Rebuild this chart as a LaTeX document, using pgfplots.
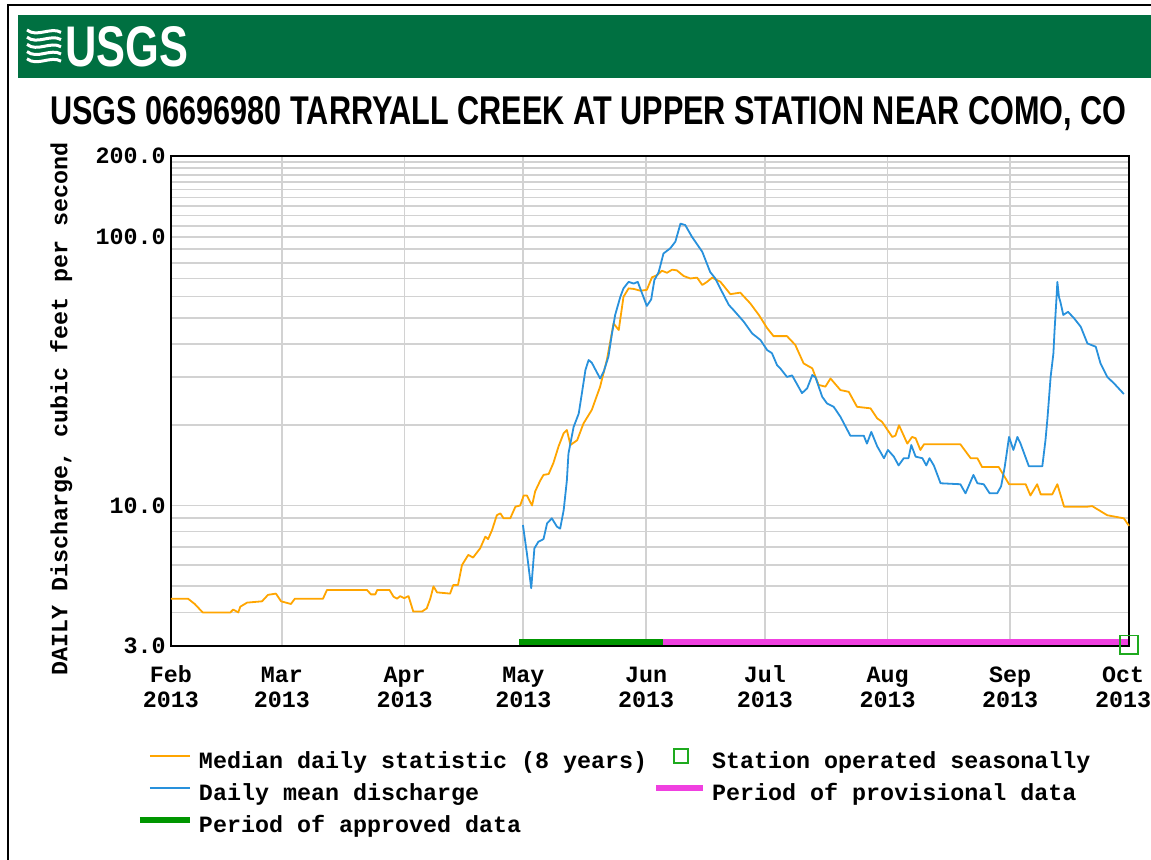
\documentclass[border=0pt]{standalone}
\usepackage{pgfplots}
\pgfplotsset{compat=1.18}
\usepackage{pgfplotstable}
\usepackage{fontspec}
\setsansfont{Liberation Sans}
\newfontfamily\pixfont{Liberation Mono}
\newcommand{\pix}{\pixfont\bfseries\fontsize{11.67pt}{12.5pt}\selectfont}
\definecolor{usgsgreen}{RGB}{0,112,65}
\definecolor{medorange}{RGB}{255,165,0}
\definecolor{meanblue}{RGB}{40,145,220}
\definecolor{apprgreen}{RGB}{0,150,0}
\definecolor{provmag}{RGB}{240,64,224}
\definecolor{seasgreen}{RGB}{30,170,30}
\definecolor{gridgray}{RGB}{210,210,210}

% day 0 = 1 Feb 2013
\pgfplotstableread{
day val
0 4.5
4.3 4.5
6 4.3
8 4.0
15 4.0
15.7 4.1
17 4.0
17.5 4.2
19.2 4.35
23 4.4
24.5 4.65
26.5 4.7
27.8 4.4
30.3 4.3
31.3 4.5
38.4 4.5
39.4 4.85
49.5 4.85
50.5 4.67
51.6 4.67
52.1 4.85
55.2 4.85
56.2 4.58
57.1 4.5
57.9 4.6
58.9 4.52
60 4.6
61.2 4.03
63.4 4.03
64.6 4.14
65.5 4.5
66.3 5.0
67.2 4.75
70.5 4.7
71.3 5.06
72.5 5.06
73.5 6.0
75.1 6.55
76.3 6.4
78.1 6.93
79.4 7.66
80.1 7.5
81.1 8.1
82.3 9.2
83.2 9.35
84 8.96
85.7 8.96
87 9.9
88.2 10.0
89.1 10.9
89.9 10.9
91.2 10.0
92 11.3
93.3 12.4
94.1 13.0
95.4 13.1
96.6 14.4
97.9 16.6
99.2 18.6
100 19.1
100.9 16.8
102.6 17.5
104.2 20.2
106.3 22.7
108.4 27.7
110.1 34.8
111.8 47.6
113.1 45
114.3 59.8
115.6 64.3
116.9 64
118.6 63
120.2 63.5
121.5 70.7
122.8 72
124 74.8
125.3 73.5
126.6 75.5
127.8 75
129.5 71.5
131.2 70
132.9 70.5
134.2 66.2
135.4 68
136.7 70.5
138.8 68
141.3 61.2
143.8 62
146.3 56.6
148.5 51.2
150.6 45.7
152.2 42.7
155.6 42.7
157.7 39.6
159.8 33.8
162 32.4
163.6 28.1
165.3 27.7
166.6 29.7
169.1 26.9
171.2 26.5
173.3 23.3
176.7 23
178.4 21.1
179.6 20.5
182.2 18.0
183 18.2
183.9 19.9
186 17.0
187.2 18.0
188.1 17.8
189.3 16.1
190.2 16.9
199.4 16.9
202 15.0
203.7 15.0
204.9 13.9
209.1 13.9
211.7 12.0
215.9 12.0
217.1 10.9
218.8 12.0
219.7 11.0
222.6 11.0
223.9 12.0
225.6 9.9
231.5 9.9
232.7 9.95
236.5 9.2
240.7 8.96
242 8.4
}\median

\pgfplotstableread{
day val
88.9 8.46
89.9 6.64
91 4.92
91.8 6.93
92.8 7.33
94.1 7.5
95 8.58
96.2 8.96
97.5 8.34
98.3 8.2
99.2 9.62
100 12.4
100.4 15.6
101.7 19.6
103 22
103.8 26.2
104.7 32
105.5 34.8
106.3 34
108.4 29.7
109.3 31.5
110.5 35.8
111.4 43.7
112.2 51.2
113.5 59.8
114.3 64.3
115.6 68
116.9 67
117.9 68
119 61.6
120.2 55.3
121.3 58.5
122.1 69
123.2 74
124.4 86.7
126.1 90.6
127.4 95.9
128.7 112
129.9 110.6
131.6 100
134.2 88
136.2 74
137.5 70
139.2 62.4
140.9 55.8
142.1 53.4
144.7 48.3
146.8 43.7
148.9 41.3
150.6 37.9
151.8 36.9
153.1 33.3
153.9 32.4
155.6 30.1
156.9 30.5
159.4 26.2
160.7 27.3
162 30.6
162.8 30
164.5 25.4
165.7 24
167.4 23.3
169.1 21.4
171.6 18.2
175 18.2
175.8 17.0
176.9 18.8
178.4 16.6
180.1 15
181.1 16.1
182.6 15.2
183.8 14.1
185.1 15
186.3 15
187 16.8
188.1 15.2
189.8 15
190.8 14.1
191.6 15
192.7 14.1
194.4 12.1
199.4 12.0
200.7 11.1
202.7 13
203.7 12.1
205.3 12
206.8 11.1
208.7 11.1
209.7 11.8
210.6 13.9
211.7 18.0
212.8 16.1
213.8 18.0
214.6 17
216.7 14
220.1 14
220.9 17.5
221.4 21.1
222.2 30.1
222.9 36.8
223.2 45
223.7 59.8
223.9 68
224.3 59.8
224.7 57
225.4 51.2
226.6 52.6
228.1 49.8
229.8 46.3
231.5 40.1
233.6 39
234.8 33.8
236.5 30.1
238.2 28.5
240.7 26
}\dailymean

\begin{document}
\begin{tikzpicture}
% outer frame
\draw[black, line width=1pt] (-81.5pt,-107pt) -- (-81.5pt,320.5pt) -- (490pt,320.5pt);
% banner
\fill[usgsgreen] (-76.5pt,284pt) rectangle (490pt,315.5pt);
% wave icon
\begin{scope}[white, line width=1.5pt, line cap=butt]
\foreach \k in {0,1,2,3,4} {
  \draw (-72pt,{(308-3.6*\k)*1pt}) .. controls +(5pt,-4pt) and +(-5pt,3pt) .. +(17pt,-1.2pt);
}
\end{scope}
\node[anchor=base west, inner sep=0pt, text=white] at (-53pt,289.5pt)
  {\resizebox{61.5pt}{20pt}{\sffamily\bfseries USGS}};
% title
\node[anchor=base west, inner sep=0pt] at (-60.5pt,260.5pt)
  {\resizebox{538pt}{14pt}{\sffamily\bfseries USGS 06696980 TARRYALL CREEK AT UPPER STATION NEAR COMO, CO}};

\begin{axis}[
  at={(0,0)}, anchor=south west,
  scale only axis, width=479pt, height=245pt,
  ymode=log, ymin=3, ymax=200, xmin=0, xmax=242,
  clip=false,
  axis line style={line width=1pt, black},
  xtick={0,28,59,89,120,150,181,212,242},
  xticklabels={Feb\\2013,Mar\\2013,Apr\\2013,May\\2013,Jun\\2013,Jul\\2013,Aug\\2013,Sep\\2013,\hspace*{-6pt}Oct\\\hspace*{-6pt}2013},
  xticklabel style={align=center, font=\pix, inner sep=0pt, anchor=north,
    text height=9pt, yshift=-21.5pt},
  ytick={3,10,100,200},
  yticklabels={3.0,10.0,100.0,200.0},
  yticklabel style={font=\pix, inner sep=0pt, xshift=-2.5pt},
  minor ytick={4,5,6,7,8,9,20,30,40,50,60,70,80,90,110,120,130,140,150,160,170,180,190},
  major tick length=0pt, minor tick length=0pt,
  grid=both,
  major grid style={draw=gridgray, line width=0.9pt},
  minor grid style={draw=gridgray, line width=0.9pt},
  legend columns=2,
  legend cell align=left,
  legend style={at={(axis description cs:0,0)}, anchor=north west,
    xshift=-17pt, yshift=-51pt, draw=none, fill=none,
    inner sep=0pt, outer sep=0pt, font=\pix,
    nodes={inner sep=0pt, text height=8pt, text depth=3pt},
    column sep=3pt, row sep=3.5pt},
]
\addlegendimage{legend image code/.code={\path[draw=none, fill=none] (0pt,-1pt) rectangle (25pt,7pt);
  \draw[medorange, line width=0.9pt] (5pt,3.5pt) -- (25pt,3.5pt);}}
\addlegendentry{Median daily statistic (8 years)}
\addlegendimage{legend image code/.code={\path[draw=none, fill=none] (0pt,-1pt) rectangle (25pt,7pt);
  \draw[seasgreen, line width=0.8pt] (10.5pt,0.2pt) rectangle (17.5pt,7.2pt);}}
\addlegendentry{Station operated seasonally}
\addlegendimage{legend image code/.code={\path[draw=none, fill=none] (0pt,-1pt) rectangle (25pt,7pt);
  \draw[meanblue, line width=0.9pt] (5pt,3.5pt) -- (25pt,3.5pt);}}
\addlegendentry{Daily mean discharge}
\addlegendimage{legend image code/.code={\path[draw=none, fill=none] (0pt,-1pt) rectangle (25pt,7pt);
  \draw[provmag, line width=3pt] (1.5pt,3.5pt) -- (25pt,3.5pt);}}
\addlegendentry{Period of provisional data}
\addlegendimage{legend image code/.code={\path[draw=none, fill=none] (0pt,-1pt) rectangle (25pt,7pt);
  \draw[apprgreen, line width=3pt] (0pt,3.5pt) -- (25pt,3.5pt);}}
\addlegendentry{Period of approved data}

\addplot[forget plot, medorange, line width=0.9pt, line join=round] table[x=day, y=val] {\median};
\addplot[forget plot, meanblue, line width=0.9pt, line join=round] table[x=day, y=val] {\dailymean};
\addplot[forget plot, apprgreen, line width=3pt] coordinates {(88,3.1) (124.4,3.1)};
\addplot[forget plot, provmag, line width=3pt] coordinates {(124.4,3.1) (241.7,3.1)};
\addplot[forget plot, only marks, mark=square, mark size=4.6pt, seasgreen, mark options={line width=0.8pt}] coordinates {(242,3.03)};
\end{axis}
% y label
\node[rotate=90, anchor=base, inner sep=0pt, font=\pix] at (-51.75pt,118.5pt)
  {DAILY Discharge, cubic feet per second};
\pgfresetboundingbox
\path[use as bounding box] (-85.5pt,-107pt) rectangle (490pt,323pt);
\end{tikzpicture}
\end{document}
